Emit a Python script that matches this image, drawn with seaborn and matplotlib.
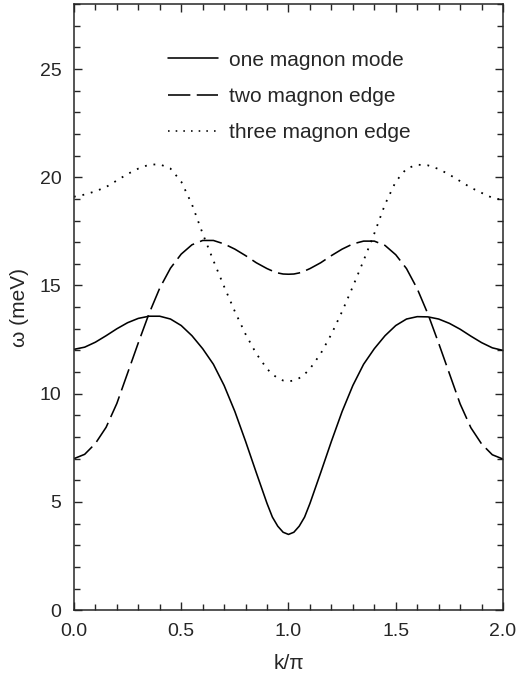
import matplotlib
matplotlib.use("Agg")
import matplotlib.pyplot as plt
import matplotlib.ticker as ticker
import pandas as pd
import seaborn as sns

# wave vector k/pi (read every 0.05, a bit finer round k = 1)
k = [
    0.00, 0.05, 0.10, 0.15, 0.20, 0.25, 0.30, 0.35, 0.40, 0.45,
    0.50, 0.55, 0.60, 0.65, 0.70, 0.75, 0.80, 0.85, 0.90,
    0.925, 0.95, 0.975, 1.00, 1.025, 1.05, 1.075,
    1.10, 1.15, 1.20, 1.25, 1.30, 1.35, 1.40, 1.45, 1.50, 1.55,
    1.60, 1.65, 1.70, 1.75, 1.80, 1.85, 1.90, 1.95, 2.00,
]

# one magnon mode (meV)
one_magnon = [
    12.05, 12.15, 12.38, 12.68, 13.00, 13.28, 13.48, 13.58, 13.58, 13.45,
    13.15, 12.68, 12.08, 11.36, 10.38, 9.18, 7.80, 6.35, 4.93,
    4.30, 3.88, 3.60, 3.50, 3.60, 3.88, 4.30,
    4.93, 6.35, 7.80, 9.18, 10.38, 11.36, 12.08, 12.68, 13.15, 13.45,
    13.56, 13.55, 13.45, 13.25, 12.98, 12.66, 12.36, 12.12, 12.00,
]

# two magnon edge (meV)
two_magnon = [
    7.00, 7.20, 7.70, 8.45, 9.55, 10.95, 12.35, 13.70, 14.88, 15.80,
    16.45, 16.88, 17.08, 17.08, 16.92, 16.68, 16.38, 16.05, 15.78,
    15.67, 15.58, 15.53, 15.52, 15.53, 15.58, 15.67,
    15.78, 16.05, 16.38, 16.68, 16.92, 17.05, 17.05, 16.85, 16.42, 15.78,
    14.85, 13.68, 12.33, 10.93, 9.53, 8.43, 7.68, 7.18, 6.98,
]

# three magnon edge (meV)
three_magnon = [
    19.10, 19.20, 19.35, 19.55, 19.85, 20.15, 20.40, 20.58, 20.60, 20.40,
    19.80, 18.75, 17.40, 16.15, 14.95, 13.80, 12.75, 11.85, 11.15,
    10.90, 10.72, 10.61, 10.57, 10.61, 10.72, 10.90,
    11.15, 11.85, 12.75, 13.80, 14.95, 16.15, 17.40, 18.75, 19.80, 20.40,
    20.58, 20.55, 20.38, 20.12, 19.82, 19.52, 19.28, 19.05, 18.95,
]

labels = ["one magnon mode", "two magnon edge", "three magnon edge"]

df = pd.DataFrame({
    "k": k * 3,
    "omega": one_magnon + two_magnon + three_magnon,
    "curve": [labels[0]] * len(k) + [labels[1]] * len(k) + [labels[2]] * len(k),
})

sns.set_style("ticks")
plt.rcParams["font.family"] = ["Liberation Sans", "DejaVu Sans"]

fig = plt.figure(figsize=(5.17, 6.81), dpi=100)
ax = fig.add_axes([0.143, 0.104, 0.830, 0.890])

sns.lineplot(
    data=df,
    x="k",
    y="omega",
    hue="curve",
    style="curve",
    hue_order=labels,
    style_order=labels,
    palette=["black", "black", "black"],
    dashes=[(None, None), (14, 4), (1, 3.8)],
    linewidth=1.15,
    ax=ax,
)

# the solid line must really be solid
ax.lines[0].set_linestyle("-")
ax.lines[2].set_linewidth(1.3)

ax.set_xlim(0, 2)
ax.set_ylim(0, 28)
ax.xaxis.set_major_locator(ticker.MultipleLocator(0.5))
ax.xaxis.set_minor_locator(ticker.MultipleLocator(0.1))
ax.yaxis.set_major_locator(ticker.MultipleLocator(5))
ax.yaxis.set_minor_locator(ticker.MultipleLocator(1))
ax.xaxis.set_major_formatter(ticker.FormatStrFormatter("%.1f"))

ax.tick_params(which="both", direction="in", top=True, right=True, width=1)
ax.tick_params(which="major", length=6, labelsize=14, pad=9)
ax.tick_params(which="minor", length=4)
for sp in ax.spines.values():
    sp.set_linewidth(1.1)

ax.set_xlabel("k/\u03c0", fontsize=15, labelpad=10)
ax.set_ylabel("\u03c9 (meV)", fontsize=15, labelpad=8)

leg = ax.legend(
    loc="upper left",
    bbox_to_anchor=(0.219, 0.923),
    frameon=False,
    fontsize=15,
    handlelength=2.4,
    handletextpad=0.55,
    labelspacing=0.82,
    borderpad=0,
    borderaxespad=0,
)

fig.savefig("out.png", dpi=100)
